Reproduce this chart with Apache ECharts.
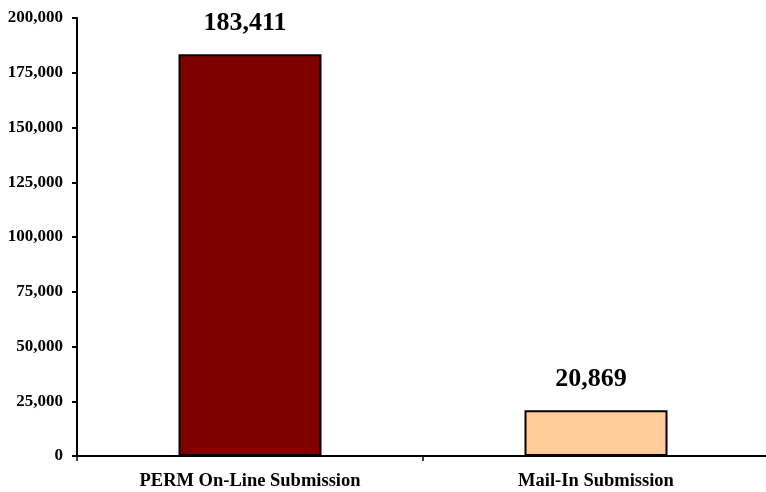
<!DOCTYPE html>
<html>
<head>
<meta charset="utf-8">
<script src="https://cdn.jsdelivr.net/npm/echarts@6/dist/echarts.min.js"></script>
<style>html,body{margin:0;padding:0;background:#fff;}#c{width:766px;height:492px;}</style>
</head>
<body>
<div id="c"></div>
<script>
const categories = ['PERM On-Line Submission', 'Mail-In Submission'];
const values = [183411, 20869];
const barColors = ['#800000', '#FFCC99'];
const yTicks = [0, 25000, 50000, 75000, 100000, 125000, 150000, 175000, 200000];

const font = 'Liberation Serif';
const chart = echarts.init(document.getElementById('c'));
chart.setOption({
  animation: false,
  backgroundColor: '#fff',
  grid: { left: 77, right: -3, top: 18, bottom: 36, containLabel: false, outerBoundsMode: 'none' },
  xAxis: {
    type: 'category',
    data: categories,
    axisLine: { lineStyle: { color: '#000', width: 2 } },
    axisTick: { show: true, inside: false, length: 5, lineStyle: { color: '#000', width: 1.5 } },
    axisLabel: { color: '#000', fontFamily: font, fontWeight: 'bold', fontSize: 18.5, margin: 16 }
  },
  yAxis: {
    type: 'value',
    min: yTicks[0],
    max: yTicks[yTicks.length - 1],
    interval: 25000,
    splitLine: { show: false },
    axisLine: { show: true, lineStyle: { color: '#000', width: 2 } },
    axisTick: { show: true, length: 5, lineStyle: { color: '#000', width: 2 } },
    axisLabel: {
      color: '#000', fontFamily: font, fontWeight: 'bold', fontSize: 17, margin: 14,
      formatter: v => v.toLocaleString('en-US')
    }
  },
  series: [{
    type: 'bar',
    barWidth: 143,
    data: values.map((v, i) => ({
      value: v,
      itemStyle: { color: barColors[i], borderColor: '#000', borderWidth: 2 }
    })),
    label: {
      show: true, position: 'top', distance: 18, offset: [-5, 0],
      color: '#000', fontFamily: font, fontWeight: 'bold', fontSize: 26,
      formatter: p => p.value.toLocaleString('en-US')
    }
  }]
});
</script>
</body>
</html>
